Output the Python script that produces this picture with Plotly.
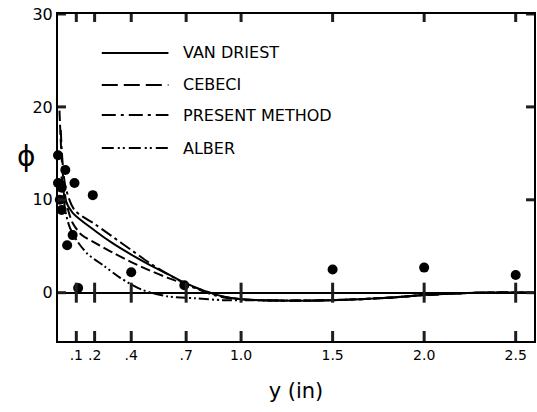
import plotly.graph_objects as go

# ---- data ----
tick_vals = [0.1, 0.2, 0.4, 0.7, 1.0, 1.5, 2.0, 2.5]
tick_text = [".1", ".2", ".4", ".7", "1.0", "1.5", "2.0", "2.5"]
y_tick_vals = [0, 10, 20, 30]
x_range = [0, 2.6]
y_range = [-5.2, 30]

van_driest_x = [0.02, 0.04, 0.08, 0.2, 0.3, 0.4, 0.5, 0.6, 0.7, 0.8, 0.9, 1.0, 1.2, 1.5, 1.8, 2.0, 2.3, 2.6]
van_driest_y = [12.5, 10.0, 8.6, 6.7, 5.3, 4.1, 3.0, 2.0, 1.0, 0.2, -0.4, -0.7, -0.85, -0.8, -0.55, -0.25, 0.0, 0.0]

cebeci_x = [0.008, 0.02, 0.035, 0.05, 0.08, 0.13, 0.2, 0.3, 0.4, 0.5, 0.6, 0.7, 0.8, 0.9, 1.0, 1.2, 1.5, 1.8, 2.0, 2.3, 2.6]
cebeci_y = [19.6, 14.5, 11.0, 9.3, 7.5, 6.2, 5.4, 4.3, 3.3, 2.4, 1.6, 0.9, 0.2, -0.4, -0.7, -0.85, -0.8, -0.55, -0.25, 0.0, 0.0]

present_x = [0.015, 0.04, 0.09, 0.2, 0.3, 0.4, 0.5, 0.6, 0.7, 0.8, 0.9, 1.0, 1.2, 1.5, 1.8, 2.0, 2.3, 2.6]
present_y = [17.5, 11.5, 8.9, 7.4, 6.0, 4.6, 3.2, 2.0, 0.9, 0.1, -0.5, -0.7, -0.85, -0.8, -0.55, -0.25, 0.0, 0.0]

alber_x = [0.02, 0.04, 0.065, 0.1, 0.16, 0.25, 0.34, 0.46, 0.6, 0.75, 0.9, 1.0, 1.2, 1.5, 1.8, 2.0, 2.3, 2.6]
alber_y = [12.5, 8.8, 7.0, 5.7, 4.2, 2.9, 1.6, 0.3, -0.4, -0.6, -0.8, -0.8, -0.85, -0.8, -0.55, -0.25, 0.0, 0.0]

exp_x = [0.0, 0.04, 0.0, 0.02, 0.09, 0.19, 0.01, 0.02, 0.08, 0.05, 0.11, 0.40, 0.69, 1.50, 2.0, 2.5]
exp_y = [14.8, 13.2, 11.8, 11.3, 11.8, 10.5, 10.0, 8.9, 6.2, 5.1, 0.5, 2.2, 0.8, 2.5, 2.7, 1.9]

FONT = "DejaVu Sans, Arial, sans-serif"
W, H = 537, 412
M = dict(l=58, r=1, t=14, b=71)
# data units per pixel (for tick lengths given in pixels)
ux = (x_range[1] - x_range[0]) / (W - M["l"] - M["r"])
uy = (y_range[1] - y_range[0]) / (H - M["t"] - M["b"])

fig = go.Figure()

series = [
    ("VAN DRIEST", van_driest_x, van_driest_y, "solid"),
    ("CEBECI", cebeci_x, cebeci_y, "10px,4px"),
    ("PRESENT METHOD", present_x, present_y, "12px,4px,3px,4px"),
    ("ALBER", alber_x, alber_y, "10px,3px,2px,3px,2px,3px"),
]
legend_dash = ["solid", "16px,6px", "14px,5px,3px,5px", "12px,4px,2px,3px,2px,4px"]
legend_rows = [0.881, 0.783, 0.691, 0.590]

for (name, xs, ys, dash), ldash, ry in zip(series, legend_dash, legend_rows):
    fig.add_trace(go.Scatter(
        x=xs, y=ys, mode="lines", name=name, showlegend=False,
        line=dict(color="black", width=2, dash=dash, shape="spline", smoothing=0.8),
    ))
    # legend key
    fig.add_shape(type="line", xref="x domain", yref="y domain",
                  x0=0.092, x1=0.232, y0=ry, y1=ry,
                  line=dict(color="black", width=2, dash=ldash))
    fig.add_annotation(text=name, xref="x domain", yref="y domain",
                       x=0.259, y=ry, xanchor="left", yanchor="middle",
                       showarrow=False, font=dict(size=16, family=FONT, color="black"))

fig.add_trace(go.Scatter(
    x=exp_x, y=exp_y, mode="markers", showlegend=False, cliponaxis=False,
    marker=dict(color="black", size=10),
))

# tick marks: crossing ticks on the zero line, inward ticks on the frame
tx, ty = [], []
for t in tick_vals:
    tx += [t, t, None, t, t, None, t, t, None]
    ty += [-10 * uy, 10 * uy, None,
           y_range[0], y_range[0] + 10 * uy, None,
           y_range[1], y_range[1] - 8 * uy, None]
for v in y_tick_vals:
    tx += [x_range[0], x_range[0] + 8 * ux, None, x_range[1], x_range[1] - 8 * ux, None]
    ty += [v, v, None, v, v, None]
fig.add_trace(go.Scatter(x=tx, y=ty, mode="lines", showlegend=False,
                         line=dict(color="#1e1e1e", width=3), hoverinfo="skip"))

fig.add_annotation(
    text="ϕ", xref="paper", yref="paper", x=-0.09, y=0.563,
    showarrow=False, font=dict(family="DejaVu Sans", size=28, color="black"),
)

fig.update_layout(
    width=W, height=H,
    margin=M,
    paper_bgcolor="white", plot_bgcolor="white",
    font=dict(family=FONT, color="black", size=14),
    showlegend=False,
    xaxis=dict(
        range=x_range, tickvals=tick_vals, ticktext=tick_text,
        ticks="", showline=True, linewidth=2, linecolor="black", mirror=True,
        showgrid=False, zeroline=False,
        tickfont=dict(size=14),
        title=dict(text="y (in)", font=dict(size=21), standoff=22),
    ),
    yaxis=dict(
        range=y_range, tickvals=y_tick_vals,
        ticks="", showline=True, linewidth=2, linecolor="black", mirror=True,
        showgrid=False, zeroline=True, zerolinecolor="black", zerolinewidth=1.5,
        tickfont=dict(size=16),
    ),
)

fig.write_html("out.html")
